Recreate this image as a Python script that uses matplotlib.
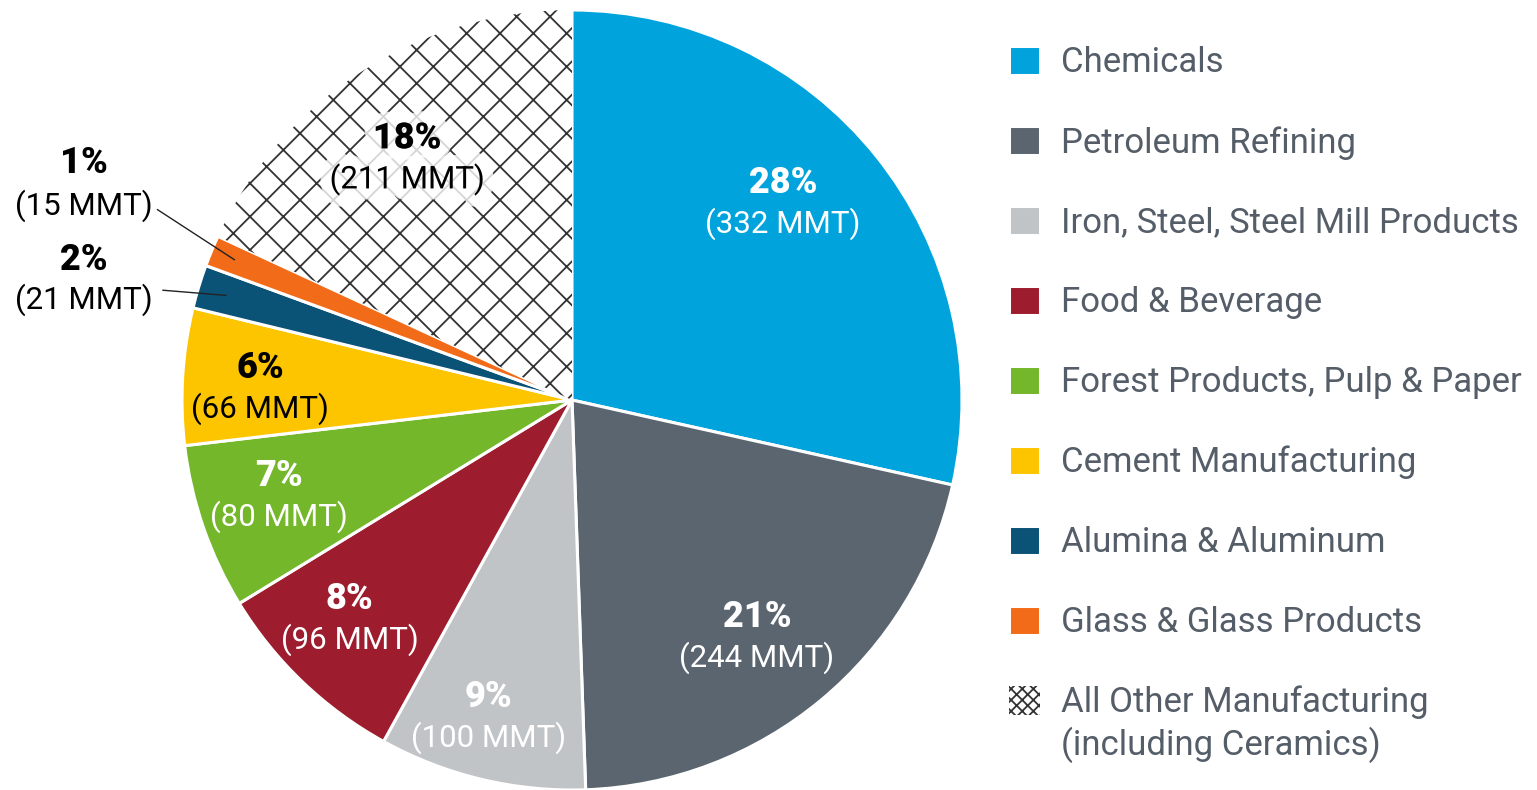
import matplotlib
matplotlib.use("Agg")
import matplotlib.pyplot as plt
import matplotlib.patheffects as pe
import numpy as np

categories = [
    "Chemicals",
    "Petroleum Refining",
    "Iron, Steel, Steel Mill Products",
    "Food & Beverage",
    "Forest Products, Pulp & Paper",
    "Cement Manufacturing",
    "Alumina & Aluminum",
    "Glass & Glass Products",
    "All Other Manufacturing",
]
extra_line = "(including Ceramics)"
mmt = [332, 244, 100, 96, 80, 66, 21, 15, 211]
pct_labels = ["28%", "21%", "9%", "8%", "7%", "6%", "2%", "1%", "18%"]

colors = ["#00a3dc", "#5b6570", "#c1c4c7", "#9d1c2e", "#74b72b",
          "#fdc500", "#0b5277", "#f26b18", "white"]
label_colors = ["white", "white", "white", "white", "white",
                "black", "black", "black", "black"]
# inside label placement: fraction of radius and angle shift from mid-wedge (deg)
label_dist = [0.74, 0.77, 0.84, 0.80, 0.79, 0.80, None, None, 0.75]
label_shift = [4.3, -1.7, -1.3, -1.7, -1.0, 1.3, 0, 0, 1.7]

plt.rcParams["font.family"] = ["Roboto", "DejaVu Sans"]
plt.rcParams["hatch.linewidth"] = 1.3

W, H = 1537, 790
fig = plt.figure(figsize=(W / 100, H / 100), dpi=100)
ax = fig.add_axes([0, 0, 1, 1])

cx, cy, R = 572, 390, 390
wedges, _ = ax.pie(mmt, colors=colors, startangle=90, counterclock=False,
                   center=(cx, cy), radius=R, frame=True,
                   wedgeprops=dict(edgecolor="white", linewidth=2.2))
ax.set_xlim(0, W)
ax.set_ylim(0, H)
ax.set_aspect("equal")
ax.axis("off")

other = wedges[-1]
other.set_edgecolor("#333333")
other.set_linewidth(0)
other.set_hatch("x")

for i, w in enumerate(wedges):
    d = label_dist[i]
    if d is None:
        continue
    th = np.deg2rad((w.theta1 + w.theta2) / 2 + label_shift[i])
    x = cx + d * R * np.cos(th)
    y = cy + d * R * np.sin(th)
    fx = [pe.withStroke(linewidth=16, foreground="white", alpha=0.8)] if i == 8 else None
    ax.text(x, y + 20, pct_labels[i], ha="center", va="center", fontsize=26,
            fontweight="black", color=label_colors[i], path_effects=fx)
    ax.text(x, y - 21, f"({mmt[i]} MMT)", ha="center", va="center", fontsize=22.5,
            color=label_colors[i], path_effects=fx)

# outside labels for the two small slices
outside = {7: (84, 627, 584, (155, 582), 0.93), 6: (84, 530, 490, (160, 500), 0.92)}
for i, (x, y1, y2, start, d) in outside.items():
    w = wedges[i]
    th = np.deg2rad((w.theta1 + w.theta2) / 2)
    ax.text(x, y1, pct_labels[i], ha="center", va="center", fontsize=26,
            fontweight="black", color="black")
    ax.text(x, y2, f"({mmt[i]} MMT)", ha="center", va="center", fontsize=22.5,
            color="black")
    ax.annotate("", xy=(cx + d * R * np.cos(th), cy + d * R * np.sin(th)),
                xytext=start, arrowprops=dict(arrowstyle="-", color="#222222", lw=1))

leg = ax.legend(wedges, categories, loc="upper left",
                bbox_to_anchor=(1009 / W, 1 - 46 / H), bbox_transform=fig.transFigure,
                frameon=False, fontsize=25, handlelength=0.9, handleheight=0.9,
                handletextpad=0.6, labelspacing=1.34, borderpad=0, borderaxespad=0)
for t in leg.get_texts():
    t.set_color("#555e68")
leg.legend_handles[-1].set_hatch("xxx")

# second line of the last legend entry
fig.canvas.draw()
bb = leg.get_texts()[-1].get_window_extent()
fig.text(bb.x0 / W, (bb.y0 - 44) / H, extra_line, fontsize=25, color="#555e68",
         ha="left", va="bottom")

fig.savefig("out.png", dpi=100, facecolor="white")
